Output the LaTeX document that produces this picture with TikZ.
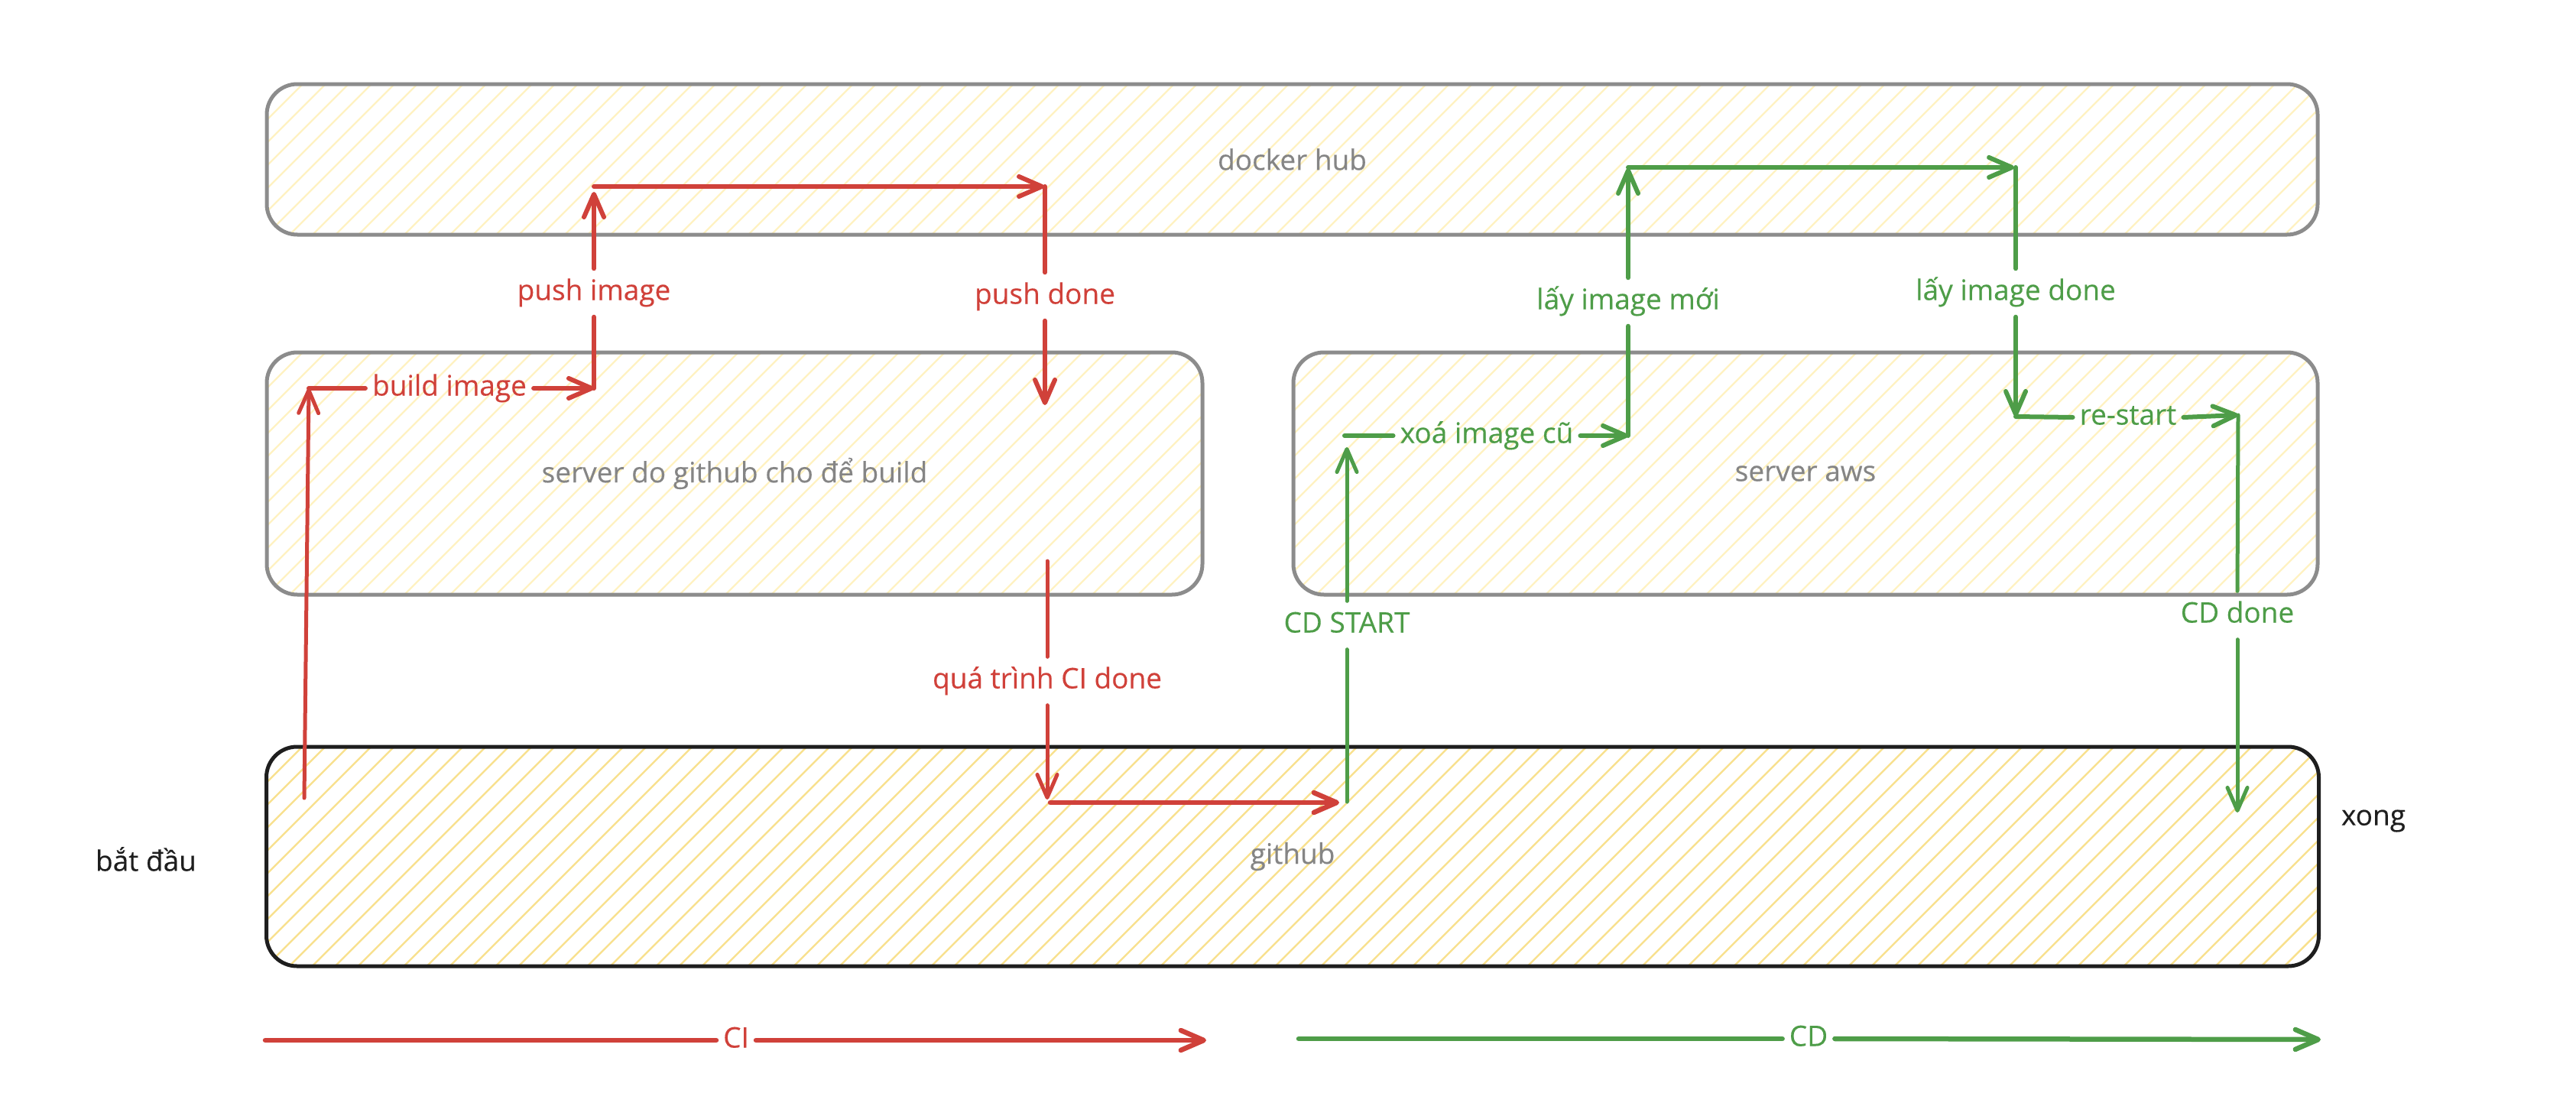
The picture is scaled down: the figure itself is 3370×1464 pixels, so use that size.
\documentclass[tikz,border=0pt]{standalone}
\usepackage{fontspec}
\setmainfont{Open Sans}[FakeBold=0.25]
\usetikzlibrary{arrows.meta}
\definecolor{cired}{HTML}{D0413A}
\definecolor{cdgreen}{HTML}{4E9D48}
\definecolor{boxgray}{HTML}{8C8C8C}
\definecolor{txtgray}{HTML}{858585}
\definecolor{hatchpale}{HTML}{FFF2C2}
\definecolor{hatchgold}{HTML}{F8E08C}
\definecolor{inkblack}{HTML}{1E1E1E}
\begin{document}
\begin{tikzpicture}[x=1pt,y=-1pt,
  hatched/.style={path picture={
     \foreach \k in {0,...,112}
       \draw[#1, line width=2.4pt] ([xshift=\k*30pt-420pt]path picture bounding box.south west) -- ++(420pt,420pt);}},
  panel/.style={draw=boxgray, line width=5pt, rounded corners=40pt, text=txtgray,
     font=\fontsize{37}{44}\selectfont},
  flow/.style={line width=6pt, line cap=round, line join=round},
  arrowed/.style={flow, -{Straight Barb[length=30pt,width=26pt,round]}},
  lbl/.style={font=\fontsize{37}{44}\selectfont, inner xsep=9pt, inner ysep=13pt,
     text height=28pt, text depth=9pt},
  plain/.style={font=\fontsize{37}{44}\selectfont, text=inkblack},
]
\useasboundingbox (0,0) rectangle (3370,1464);

% panels
\node[panel, hatched=hatchpale, minimum width=2683pt, minimum height=197pt] (dock) at (1690.5,208.5) {docker hub};
\node[panel, hatched=hatchpale, minimum width=1224pt, minimum height=317pt] (ghsrv) at (961,619.5) {server do github cho để build};
\node[panel, hatched=hatchpale, minimum width=1340pt, minimum height=317pt] (aws) at (2362,619.5) {server aws};
\node[panel, draw=inkblack, hatched=hatchgold, minimum width=2685pt, minimum height=287pt] (gh) at (1691,1120.5) {github};

% free texts
\node[plain] (start) at (191,1124) {bắt đầu};
\node[plain] (finish) at (3105,1074) {xong};

% labels
\node[lbl, text=cired] (lbBuild) at (588,508) {build image};
\node[lbl, text=cired] (lbPush) at (777,383) {push image};
\node[lbl, text=cired] (lbPushDone) at (1367,388) {push done};
\node[lbl, text=cired] (lbCIdone) at (1370,891) {quá trình CI done};
\node[lbl, text=cdgreen] (lbCDs) at (1762,818) {CD START};
\node[lbl, text=cdgreen] (lbXoa) at (1945,570) {xoá image cũ};
\node[lbl, text=cdgreen] (lbMoi) at (2130,395) {lấy image mới};
\node[lbl, text=cdgreen] (lbDone) at (2637,383) {lấy image done};
\node[lbl, text=cdgreen] (lbRe) at (2784,546) {re-start};
\node[lbl, text=cdgreen] (lbCDd) at (2927,805) {CD done};
\node[lbl, text=cired] (lbCI) at (963,1361) {CI};
\node[lbl, text=cdgreen] (lbCD) at (2366,1359) {CD};

% coordinates
\coordinate (r0) at (398,1044);
\coordinate (r1) at (404,508);
\coordinate (r2) at (777,508);
\coordinate (r3) at (777,251);
\coordinate (r3b) at (777,244);
\coordinate (r4) at (1366,244);
\coordinate (r4b) at (1367,244);
\coordinate (r5) at (1367,530);
\coordinate (r6) at (1370,734);
\coordinate (r7) at (1370,1046);
\coordinate (r8) at (1374,1050);
\coordinate (r9) at (1752,1050);
\coordinate (g0) at (1762,1049);
\coordinate (g1) at (1762,585);
\coordinate (g2) at (1759,570);
\coordinate (g3) at (2130,570);
\coordinate (g4) at (2130,220);
\coordinate (g5) at (2130,219);
\coordinate (g6) at (2635,219);
\coordinate (g6b) at (2637,219);
\coordinate (g7) at (2637,545);
\coordinate (g8) at (2928,543);
\coordinate (g9) at (2927,1063);
\coordinate (ci0) at (347,1361);
\coordinate (ci1) at (1578,1361);
\coordinate (cd0) at (1699,1359);
\coordinate (cd1) at (3036,1360);

% CI (red) flow
\begin{scope}[draw=cired]
\draw[arrowed, line width=5pt] (r0) -- (r1);
\draw[flow] (r1) -- (lbBuild.west);
\draw[arrowed] (lbBuild.east) -- (r2);
\draw[flow] (r2) -- (lbPush.south);
\draw[arrowed] (lbPush.north) -- (r3);
\draw[arrowed] (r3b) -- (r4);
\draw[flow] (r4b) -- (lbPushDone.north);
\draw[arrowed] (lbPushDone.south) -- (r5);
\draw[flow, line width=5pt] (r6) -- (lbCIdone.north);
\draw[arrowed, line width=5pt] (lbCIdone.south) -- (r7);
\draw[arrowed, line width=6.5pt] (r8) -- (r9);
\draw[flow, line width=6.5pt] (ci0) -- (lbCI.west);
\draw[arrowed, line width=6.5pt] (lbCI.east) -- (ci1);
\end{scope}

% CD (green) flow
\begin{scope}[draw=cdgreen]
\draw[flow, line width=5pt] (g0) -- (lbCDs.south);
\draw[arrowed, line width=5pt] (lbCDs.north) -- (g1);
\draw[flow] (g2) -- (lbXoa.west);
\draw[arrowed] (lbXoa.east) -- (g3);
\draw[flow] (g3) -- (lbMoi.south);
\draw[arrowed] (lbMoi.north) -- (g4);
\draw[arrowed] (g5) -- (g6);
\draw[flow] (g6b) -- (lbDone.north);
\draw[arrowed] (lbDone.south) -- (g7);
\draw[flow] (g7) -- (lbRe.west);
\draw[arrowed] (lbRe.east) -- (g8);
\draw[flow, line width=5pt] (g8) -- (lbCDd.north);
\draw[arrowed, line width=5pt] (lbCDd.south) -- (g9);
\draw[flow, line width=6.5pt] (cd0) -- (lbCD.west);
\draw[arrowed, line width=6.5pt] (lbCD.east) -- (cd1);
\end{scope}
\end{tikzpicture}
\end{document}
